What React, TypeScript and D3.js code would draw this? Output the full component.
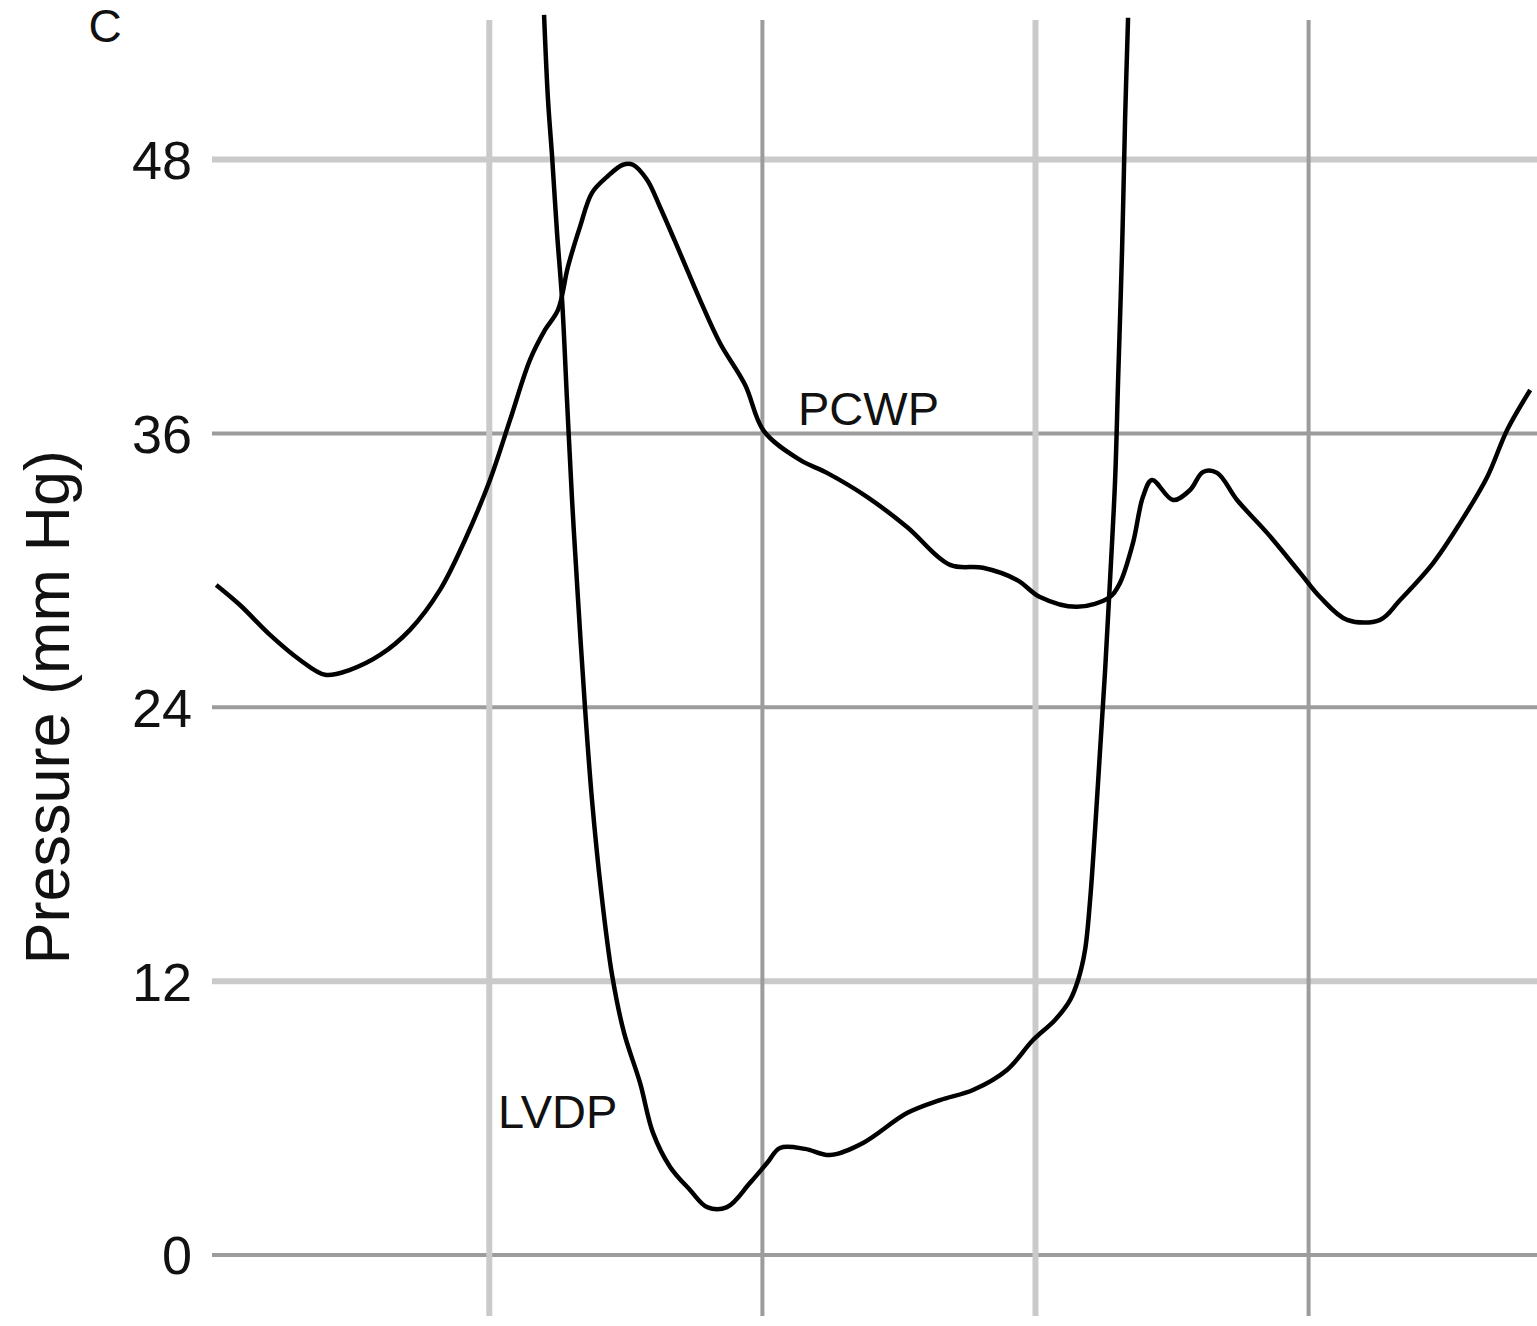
import React from "react";
import * as d3 from "d3";

// time in ms, pressure in mm Hg
const pcwpTime = [0, 17.4, 39.4, 61.4, 79.7, 98, 120, 141.9, 163.9, 182.2, 200.5, 215.2, 229.8, 240.8, 250.3, 257.6, 266.4, 275.2, 286.2, 297.9, 305.2, 315.5, 325, 339.6, 354.3, 368.9, 387.3, 401.1, 427.5, 447.3, 476.6, 505.9, 537.4, 561.5, 586.4, 603.3, 630.4, 654.5, 661.9, 671.4, 678.7, 685.3, 700.7, 713.2, 722.7, 733, 747.6, 769.6, 793.8, 808.4, 828.2, 852.4, 867, 891.2, 911, 930.8, 945.4, 962.3];
const pcwpValue = [29.36, 28.48, 27.17, 26.07, 25.42, 25.64, 26.29, 27.39, 29.14, 31.33, 33.96, 36.59, 39.22, 40.53, 41.41, 43.3, 45.05, 46.54, 47.24, 47.77, 47.77, 47.11, 45.92, 43.91, 41.85, 39.96, 38.13, 36.1, 34.84, 34.27, 33.22, 31.9, 30.24, 30.11, 29.58, 28.83, 28.4, 28.83, 29.45, 31.2, 33.22, 33.96, 33.08, 33.52, 34.31, 34.27, 33.08, 31.64, 29.89, 28.83, 27.83, 27.83, 28.7, 30.32, 32.08, 34.09, 36.15, 37.9];

const lvdpTime = [240.1, 243, 246, 249.6, 253.3, 256.9, 260.6, 265, 270.1, 275.2, 281.8, 289.9, 298.7, 310.4, 319.9, 332.4, 347, 359.5, 374.1, 390.9, 403.4, 412.9, 431.2, 449.5, 473.7, 505.9, 530.1, 554.2, 579.1, 598.2, 614.3, 625.3, 631.2, 636.3, 640, 643.6, 647.3, 651, 654.6, 658.3, 660.5, 663.4, 665.6, 667.8];
const lvdpValue = [54.34, 50.61, 48.12, 44.79, 41.85, 37.47, 33.09, 28.7, 23.97, 19.94, 15.99, 12.27, 9.73, 7.54, 5.35, 3.86, 2.85, 2.1, 2.1, 3.16, 4.03, 4.69, 4.65, 4.38, 4.91, 6.22, 6.79, 7.23, 8.11, 9.42, 10.3, 11.17, 12.05, 13.37, 15.56, 18.62, 22.13, 25.64, 29.58, 33.96, 38.34, 44.04, 49.74, 54.21];

const yTicks = [0, 12, 24, 36, 48];
const xTicks = [200, 400, 600, 800];
const seriesLabels = ["PCWP", "LVDP"];
const panelLabel = "C";
const yAxisTitle = "Pressure (mm Hg)";

const W = 1537;
const H = 1326;

export default function App() {
  const x = d3.scaleLinear().domain([0, 968]).range([216.2, 1538]);
  const y = d3.scaleLinear().domain([0, 48]).range([1255, 159.5]);

  const line = d3
    .line<[number, number]>()
    .x((d) => x(d[0]))
    .y((d) => y(d[1]))
    .curve(d3.curveCatmullRom.alpha(0.5));

  const pcwp: [number, number][] = pcwpTime.map((t, i) => [t, pcwpValue[i]]);
  const lvdp: [number, number][] = lvdpTime.map((t, i) => [t, lvdpValue[i]]);

  const light = { stroke: "#cacaca", w: 6 };
  const dark = { stroke: "#9c9c9c", w: 4 };
  const hStyle = (v: number) => (v === 48 || v === 12 ? light : dark);
  const vStyle = (i: number) => (i % 2 === 0 ? light : dark);

  const font = "'Liberation Sans', Arial, sans-serif";

  return (
    <svg
      width={W}
      height={H}
      style={{ position: "absolute", left: 0, top: 0, background: "#fff" }}
      fontFamily={font}
    >
      <rect x={0} y={0} width={W} height={H} fill="#fff" />
      {yTicks.map((v) => (
        <line
          key={"h" + v}
          x1={212}
          x2={W}
          y1={y(v)}
          y2={y(v)}
          stroke={hStyle(v).stroke}
          strokeWidth={hStyle(v).w}
        />
      ))}
      {xTicks.map((t, i) => (
        <line
          key={"v" + t}
          x1={x(t)}
          x2={x(t)}
          y1={20}
          y2={1316}
          stroke={vStyle(i).stroke}
          strokeWidth={vStyle(i).w}
        />
      ))}
      {yTicks.map((v) => (
        <text
          key={"t" + v}
          x={192}
          y={y(v)}
          dy="0.36em"
          textAnchor="end"
          fontSize={54}
          fill="#111"
        >
          {v}
        </text>
      ))}
      <path d={line(pcwp) || ""} fill="none" stroke="#000" strokeWidth={4.5} strokeLinejoin="round" />
      <path d={line(lvdp) || ""} fill="none" stroke="#000" strokeWidth={4.5} strokeLinejoin="round" />
      <text x={798} y={425} fontSize={47} fill="#111">
        {seriesLabels[0]}
      </text>
      <text x={498} y={1128} fontSize={47} fill="#111">
        {seriesLabels[1]}
      </text>
      <text x={105} y={42} textAnchor="middle" fontSize={46} fill="#111">
        {panelLabel}
      </text>
      <text
        transform={`translate(69,${y(24)}) rotate(-90)`}
        textAnchor="middle"
        fontSize={63}
        fill="#111"
      >
        {yAxisTitle}
      </text>
    </svg>
  );
}
